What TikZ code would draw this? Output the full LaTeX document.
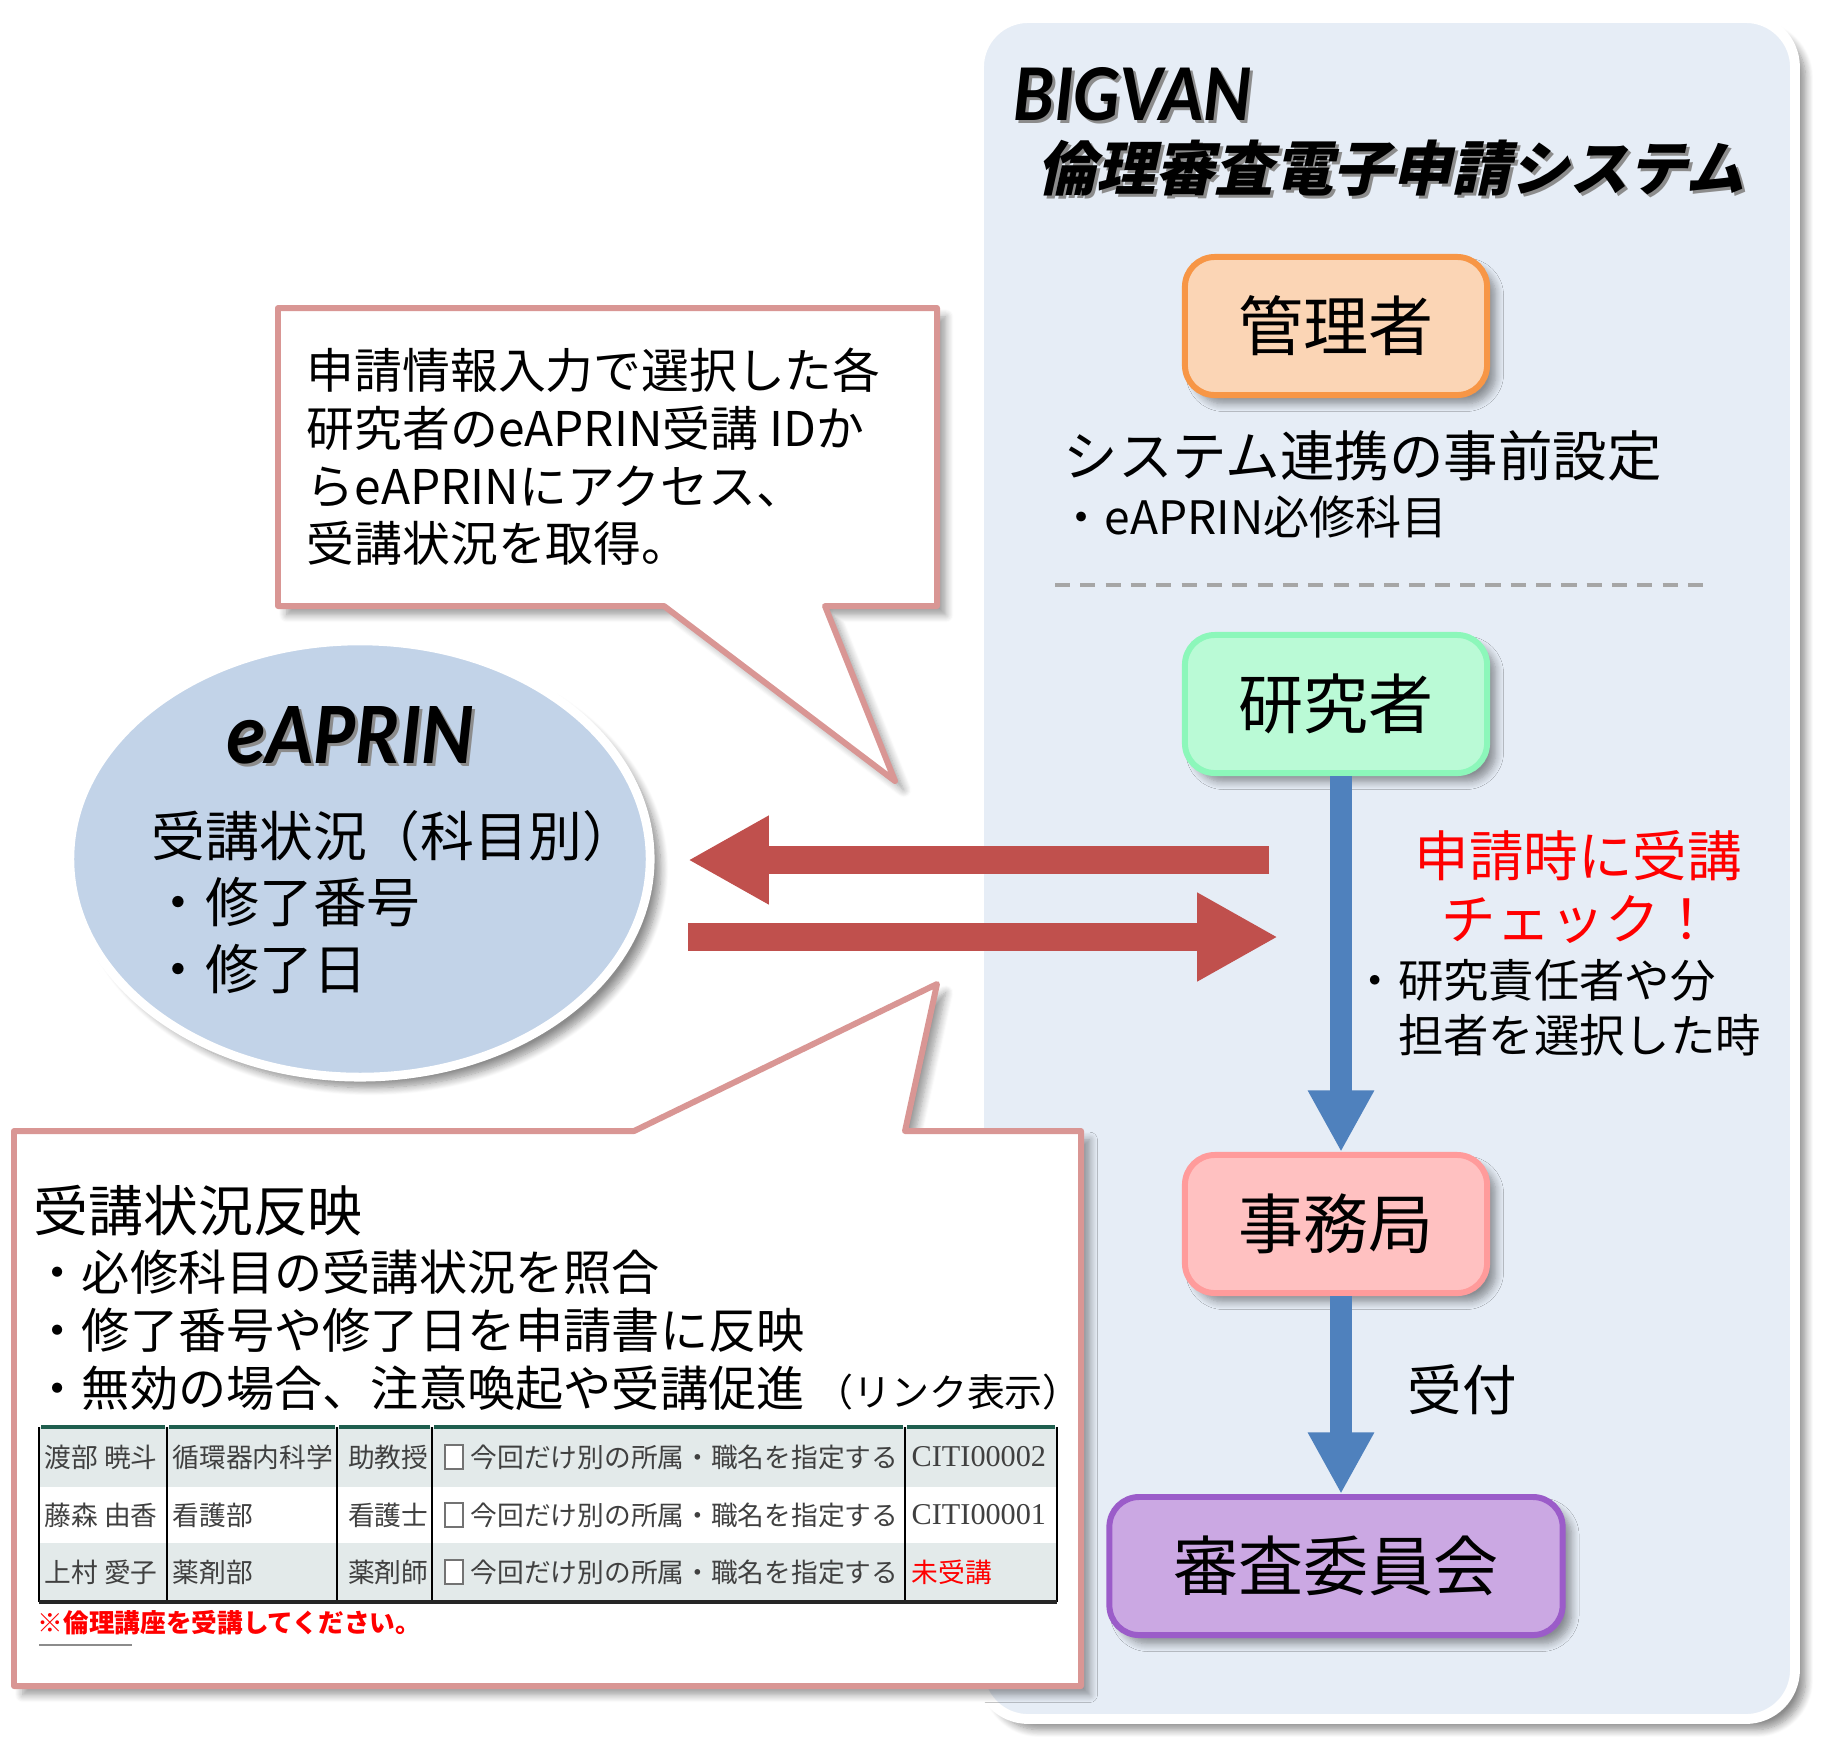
\documentclass[tikz,border=0pt]{standalone}
\usepackage{fontspec}
\usetikzlibrary{arrows.meta,shadows,shadows.blur,shapes.geometric}
\setmainfont{Noto Sans CJK JP}
\newfontfamily\jpslant[FakeSlant=0.22]{Noto Sans CJK JP}
\newfontfamily\lbi[FakeStretch=0.9]{Carlito}
\newfontfamily\citi{Liberation Serif}
\newcommand\fsz[2]{\fontsize{#1pt}{#2pt}\selectfont}
\definecolor{panelfill}{HTML}{E6EDF6}
\definecolor{kanrifill}{HTML}{FBD5B5}
\definecolor{kanridraw}{HTML}{F79646}
\definecolor{kenfill}{HTML}{BAFAD6}
\definecolor{kendraw}{HTML}{8CF7BA}
\definecolor{jimufill}{HTML}{FFC1C1}
\definecolor{jimudraw}{HTML}{FF9B9B}
\definecolor{shinfill}{HTML}{CBA8E3}
\definecolor{shindraw}{HTML}{9B5CC9}
\definecolor{ellfill}{HTML}{C2D3E8}
\definecolor{redarrow}{HTML}{C0504D}
\definecolor{bluearrow}{HTML}{4F81BD}
\definecolor{callc}{HTML}{D99694}
\definecolor{rowshade}{HTML}{E3EAEA}
\definecolor{tblgreen}{HTML}{1F5E4E}
\definecolor{tbltext}{HTML}{404040}
\definecolor{alertred}{HTML}{FF0000}
\tikzset{
  softshadow/.style={blur shadow={shadow xshift=2.5pt,shadow yshift=-2.5pt,shadow opacity=40,shadow blur steps=8}},
  rolebox/.style={rounded corners=8.5pt,line width=1.7pt,minimum width=3.02cm,minimum height=1.38cm,
    font=\fsz{18.5}{22},inner sep=0pt,softshadow},
  callout/.style={draw=callc,line width=1.7pt,fill=white,line join=round,softshadow},
  flowarrow/.style={draw=bluearrow,line width=6pt,-{Triangle[length=17.5pt,width=17.6pt]}},
  bigarrow/.style={draw=redarrow,line width=7.7pt,-{Triangle[length=23pt,width=23.6pt]}},
  plain/.style={inner sep=0pt,anchor=west},
  cell/.style={inner sep=0pt,font=\fsz{7.6}{9},text=tbltext},
  tshadow/.style={text=black!45},
}
\begin{document}
\begin{tikzpicture}[x=0.01cm,y=-0.01cm]
\useasboundingbox (0,0) rectangle (1842,1750);

% right panel
\path[fill=panelfill,draw=white,line width=2.8pt,rounded corners=14pt,
  blur shadow={shadow xshift=3pt,shadow yshift=-3pt,shadow opacity=45,shadow blur steps=10}]
  (979,18) rectangle (1795,1719);

% titles
\node[plain,tshadow,font=\lbi\bfseries\itshape\fsz{23}{23}] (bigvansh) at (1016,97) {BIGVAN};
\node[plain,font=\lbi\bfseries\itshape\fsz{23}{23}] (bigvan) at (1013,94) {BIGVAN};
\node[plain,tshadow,font=\jpslant\bfseries\fsz{16.8}{17}] (titlesh) at (1040,171) {倫理審査電子申請システム};
\node[plain,font=\jpslant\bfseries\fsz{16.8}{17}] (title) at (1037,168) {倫理審査電子申請システム};

% role boxes
\node[rolebox,fill=kanrifill,draw=kanridraw] (kanri) at (1336,326) {管理者};
\node[rolebox,fill=kenfill,draw=kendraw] (kenkyu) at (1336,704) {研究者};
\node[rolebox,fill=jimufill,draw=jimudraw] (jimu) at (1336,1224) {事務局};
\node[rolebox,fill=shinfill,draw=shindraw,minimum width=4.53cm] (shinsa) at (1336,1566) {審査委員会};

\node[plain,font=\fsz{15.5}{18}] (settei) at (1063,456) {システム連携の事前設定};
\node[plain,font=\fsz{13.1}{16}] (hisshu) at (1058,517) {・eAPRIN必修科目};

\coordinate (dashL) at (1055,585);
\coordinate (dashR) at (1706,585);
\draw[draw=black!35,line width=0.9pt,dash pattern=on 4.3pt off 2.9pt] (dashL) -- (dashR);

% flow arrows
\draw[flowarrow] ([xshift=0.05cm]kenkyu.south) -- ([xshift=0.05cm]jimu.north);
\draw[flowarrow] ([xshift=0.05cm]jimu.south) -- ([xshift=0.05cm]shinsa.north);

\node[inner sep=0pt,align=center,text=alertred,font=\fsz{15.5}{18}] (check) at (1578,887) {申請時に受講\\チェック！};
\node[plain,align=left,font=\fsz{12.9}{15.6}] (toki) at (1352,1008) {・研究責任者や分\\\hspace*{1em}担者を選択した時};
\node[plain,font=\fsz{15.5}{18}] (uketsuke) at (1407,1390) {受付};

% red arrows
\coordinate (toEtail) at (1269,860);
\coordinate (toEtip) at (688,860);
\coordinate (toBtail) at (688,937);
\coordinate (toBtip) at (1278,937);
\draw[bigarrow] (toEtail) -- (toEtip);
\draw[bigarrow] (toBtail) -- (toBtip);

% top callout
\path[callout] (278,308) -- (937,308) -- (937,606) -- (825,606) -- (895,781) -- (664,606) -- (278,606) -- cycle;
\node[plain,align=left,font=\fsz{13.6}{16.4}] (calltop) at (306,457)
  {申請情報入力で選択した各\\研究者のeAPRIN受講 IDか\\らeAPRINにアクセス、\\受講状況を取得。};

% eAPRIN ellipse
\node[ellipse,fill=ellfill,draw=white,line width=2.5pt,minimum width=5.8cm,minimum height=4.36cm,inner sep=0pt,
  blur shadow={shadow xshift=3pt,shadow yshift=-3pt,shadow opacity=45,shadow blur steps=10}] (eaprin) at (360,859) {};
\node[inner sep=0pt,tshadow,font=\lbi\bfseries\itshape\fsz{25}{25}] (eapsh) at (353,738) {eAPRIN};
\node[inner sep=0pt,font=\lbi\bfseries\itshape\fsz{25}{25}] (eaptitle) at (350,735) {eAPRIN};
\node[plain,align=left,font=\fsz{15.3}{18.8}] (eaptext) at (151,902) {受講状況（科目別）\\・修了番号\\・修了日};

% bottom callout
\path[callout] (14,1131) -- (634,1131) -- (937,984) -- (905,1131) -- (1081,1131) -- (1081,1686) -- (14,1686) -- cycle;
\node[plain,font=\fsz{15.6}{18}] (hanei) at (33,1211) {受講状況反映};
\node[plain,align=left,font=\fsz{13.7}{16.5}] (haneilist) at (33,1330)
  {・必修科目の受講状況を照合\\・修了番号や修了日を申請書に反映\\・無効の場合、注意喚起や受講促進\hspace{3pt}{\fsz{10.8}{11}（リンク表示）}};

% table
\fill[rowshade] (39,1427) rectangle (1057,1487);
\fill[white] (39,1487) rectangle (1057,1543);
\fill[rowshade] (39,1543) rectangle (1057,1601);
\foreach \xa/\xb in {39/167,167/337,337/432,432/905,905/1057}
  \draw[tblgreen,line width=1.3pt] (\xa+2,1427) -- (\xb-2,1427);
\foreach \xx in {39,167,337,432,905,1057}
  \draw[black,line width=0.6pt] (\xx,1427) -- (\xx,1602);
\draw[black!85,line width=1.3pt] (39,1602) -- (1057,1602);

\node[cell,anchor=west] (c11) at (44,1457) {渡部 暁斗};
\node[cell,anchor=west] (c12) at (172,1457) {循環器内科学};
\node[cell,anchor=east] (c13) at (429,1457) {助教授};
\node[cell,anchor=west] (c14) at (470,1457) {今回だけ別の所属・職名を指定する};
\node[cell,anchor=west,font=\citi\fsz{8.6}{9}] (c15) at (911,1457) {CITI00002};
\node[cell,anchor=west] (c21) at (44,1515) {藤森 由香};
\node[cell,anchor=west] (c22) at (172,1515) {看護部};
\node[cell,anchor=east] (c23) at (429,1515) {看護士};
\node[cell,anchor=west] (c24) at (470,1515) {今回だけ別の所属・職名を指定する};
\node[cell,anchor=west,font=\citi\fsz{8.6}{9}] (c25) at (911,1515) {CITI00001};
\node[cell,anchor=west] (c31) at (44,1572) {上村 愛子};
\node[cell,anchor=west] (c32) at (172,1572) {薬剤部};
\node[cell,anchor=east] (c33) at (429,1572) {薬剤師};
\node[cell,anchor=west] (c34) at (470,1572) {今回だけ別の所属・職名を指定する};
\node[cell,anchor=west,text=alertred] (c35) at (911,1572) {未受講};
\foreach \yy in {1457,1515,1572}
  \draw[black!55,line width=0.5pt,fill=white] (445,\yy-12) rectangle (463,\yy+12);

\node[plain,text=alertred,font=\bfseries\fsz{7.3}{8}] (note) at (37,1623) {※倫理講座を受講してください。};
\coordinate (ulL) at (39,1645);
\coordinate (ulR) at (132,1645);
\draw[black!45,line width=0.6pt] (ulL) -- (ulR);
\end{tikzpicture}
\end{document}
